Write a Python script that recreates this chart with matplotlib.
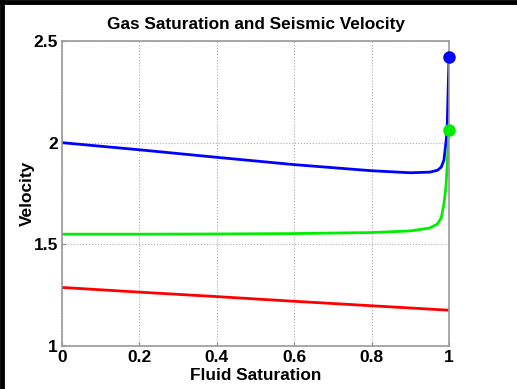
import matplotlib
matplotlib.use("Agg")
import matplotlib.pyplot as plt
from matplotlib.lines import Line2D

plt.rcParams['font.family'] = ['Liberation Sans', 'DejaVu Sans']
plt.rcParams['font.weight'] = 'bold'

# fluid saturation samples and velocities
sat = [0, 0.2, 0.4, 0.6, 0.8, 0.9, 0.95, 0.97, 0.98, 0.987, 0.992, 0.995, 1.0]
v_blue = [2.0, 1.965, 1.928, 1.892, 1.862, 1.852, 1.855, 1.864, 1.880, 1.915, 2.0, 2.06, 2.42]
v_green = [1.55, 1.55, 1.551, 1.553, 1.558, 1.566, 1.58, 1.60, 1.63, 1.70, 1.78, 1.88, 2.06]
sat_red = [0, 0.2, 0.4, 0.6, 0.8, 1.0]
v_red = [1.288, 1.265, 1.243, 1.220, 1.198, 1.176]

xticks = [0, 0.2, 0.4, 0.6, 0.8, 1]
xticklabels = ['0', '0.2', '0.4', '0.6', '0.8', '1']
yticks = [1, 1.5, 2, 2.5]
yticklabels = ['1', '1.5', '2', '2.5']

fig = plt.figure(figsize=(5.17, 3.89), dpi=100)
ax = fig.add_axes([0.1199, 0.1105, 0.7486, 0.7841])

ax.plot(sat, v_blue, color='#0000ff', lw=2)
ax.plot(sat, v_green, color='#00ee00', lw=2)
ax.plot(sat_red, v_red, color='#ff0000', lw=2)
ax.plot(sat[-1], v_blue[-1], 'o', color='#0000ff', ms=8, clip_on=False, zorder=5)
ax.plot(sat[-1], v_green[-1], 'o', color='#00ee00', ms=8, clip_on=False, zorder=5)

ax.set_xlim(0, 1)
ax.set_ylim(1, 2.5)
ax.set_xticks(xticks)
ax.set_xticklabels(xticklabels)
ax.set_yticks(yticks)
ax.set_yticklabels(yticklabels)
ax.tick_params(direction='in', length=3, color='#888888', labelsize=12.5, pad=3)
ax.grid(True, linestyle=':', color='#aaaaaa', lw=0.8)
for s in ax.spines.values():
    s.set_color('#999999')
    s.set_linewidth(1.2)

ax.set_title('Gas Saturation and Seismic Velocity', fontsize=12.4, fontweight='bold', pad=9)
ax.set_xlabel('Fluid Saturation', fontsize=12.4, fontweight='bold', labelpad=2)
ax.set_ylabel('Velocity', fontsize=12.4, fontweight='bold')
ax.yaxis.set_label_coords(-0.07, 0.5)

# dark frame along top and left edge
fig.add_artist(Line2D([0, 1], [0.995, 0.995], color='black', lw=3.5, transform=fig.transFigure))
fig.add_artist(Line2D([0.004, 0.004], [0, 1], color='black', lw=3.5, transform=fig.transFigure))

fig.savefig('out.png', dpi=100)
